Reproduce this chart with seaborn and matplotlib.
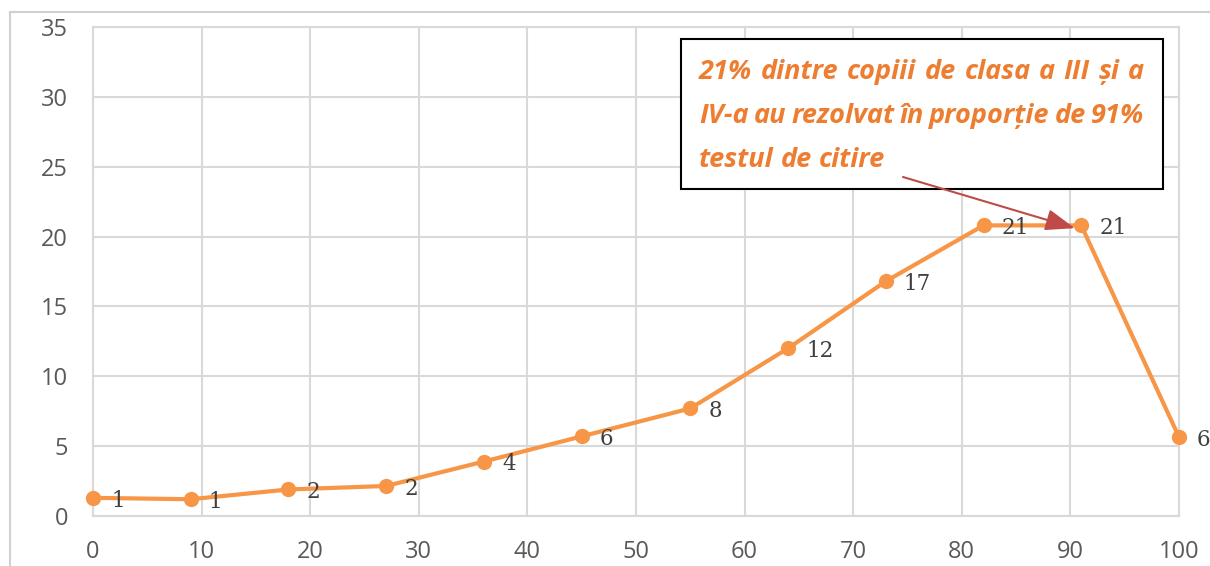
import matplotlib
matplotlib.use('Agg')
import matplotlib.pyplot as plt
import seaborn as sns
import pandas as pd
from matplotlib.patches import Rectangle, FancyArrowPatch

# values
scores = [0, 9, 18, 27, 36, 45, 55, 64, 73, 82, 91, 100]
percent = [1.3, 1.2, 1.9, 2.15, 3.9, 5.7, 7.7, 12.0, 16.8, 20.8, 20.8, 5.65]
labels = ['1', '1', '2', '2', '4', '6', '8', '12', '17', '21', '21', '6']
note_lines = ['21% dintre copiii de clasa a III și a',
              'IV-a au rezolvat în proporție de 91%',
              'testul de citire']

df = pd.DataFrame({'score': scores, 'percent': percent})

sns.set_style('white')
plt.rcParams['font.family'] = ['Open Sans', 'DejaVu Sans']

W, H = 1210, 566
fig = plt.figure(figsize=(W / 100, H / 100), dpi=100)
ax = fig.add_axes([93 / W, 1 - 516 / H, (1179 - 93) / W, (516 - 27) / H])

# outer chart border
fig.patches.append(Rectangle((10 / W, -0.1), 1.2, (1 - 12 / H) + 0.1,
                             transform=fig.transFigure, fill=False,
                             edgecolor='#d0d0d0', linewidth=1.5))

line_col = '#F79646'
sns.lineplot(data=df, x='score', y='percent', ax=ax, color=line_col,
             linewidth=3, marker='o', markersize=11, markeredgewidth=0,
             clip_on=False, zorder=5)

for x, y, t in zip(scores, percent, labels):
    ax.annotate(t, (x, y), xytext=(13, -2), textcoords='offset points',
                fontsize=15.5, family='DejaVu Serif', color='#404040',
                va='center', ha='left', zorder=6, annotation_clip=False)

ax.set_xlim(0, 100)
ax.set_ylim(0, 35)
ax.set_xticks(range(0, 101, 10))
ax.set_yticks(range(0, 36, 5))
ax.grid(True, color='#d9d9d9', linewidth=1.5)
for s in ax.spines.values():
    s.set_color('#d9d9d9')
    s.set_linewidth(1.5)
ax.tick_params(length=0, labelsize=17, labelcolor='#595959')
ax.tick_params(axis='x', pad=17)
ax.tick_params(axis='y', pad=18)
ax.set_xlabel('')
ax.set_ylabel('')

# annotation box
fig.patches.append(Rectangle((681 / W, 1 - 189 / H), (1163 - 681) / W, (189 - 39) / H,
                             transform=fig.transFigure, facecolor='white',
                             edgecolor='black', linewidth=1.5, zorder=10))

# justified text: spread words over the box width (last line left aligned)
fig.canvas.draw()
renderer = fig.canvas.get_renderer()
x_left, x_right = 699, 1144
for i, line in enumerate(note_lines):
    ypix = 72 + i * 44
    words = line.split(' ')
    arts = [fig.text(0, 1 - ypix / H, w, fontsize=19.5, fontweight='bold',
                     fontstyle='italic', color='#ED7D31', va='center',
                     ha='left', zorder=11) for w in words]
    widths = [a.get_window_extent(renderer).width for a in arts]
    if i < len(note_lines) - 1:
        gap = (x_right - x_left - sum(widths)) / (len(words) - 1)
    else:
        gap = 7
    x = x_left
    for a, w in zip(arts, widths):
        a.set_x(x / W)
        x += w + gap

# arrow drawn on top of the box
tip = fig.transFigure.inverted().transform(ax.transData.transform((90.4, 20.6)))
arrow = FancyArrowPatch((903 / W, 1 - 177 / H), tuple(tip),
                        transform=fig.transFigure, shrinkA=0, shrinkB=0,
                        arrowstyle='-|>,head_length=1.5,head_width=0.55',
                        mutation_scale=12, color='#BE4B48', linewidth=1.5,
                        zorder=12)
fig.patches.append(arrow)

fig.savefig('out.png', dpi=100)
